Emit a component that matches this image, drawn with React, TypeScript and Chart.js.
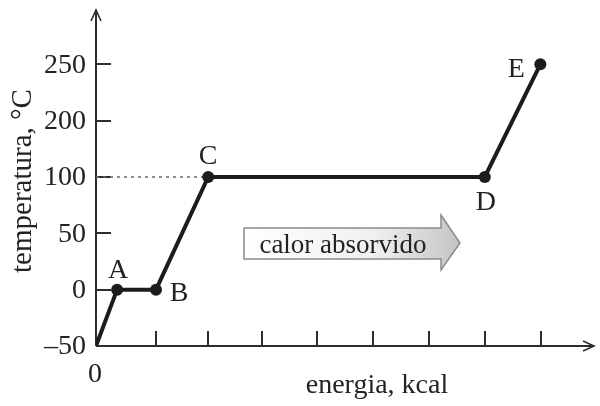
import React, { useEffect, useRef } from "react";
import { Chart, registerables } from "chart.js";

Chart.register(...registerables);

// Energy (x) in tick units, temperatures (°C) of the heating curve
const energy = [0, 0.38, 1.08, 2.02, 7.0, 8.0];
const temperature = [-50, 0, 0, 100, 100, 250];
const pointLabels = ["", "A", "B", "C", "D", "E"];
// x tick mark positions (unlabelled)
const xTicks = [1.08, 2.01, 2.99, 3.98, 4.98, 5.99, 7.0, 8.01];
// y axis (non-linear, 150 skipped): tick temperatures
const yTickTemps = [-50, 0, 50, 100, 200, 250];
const yTickLabels = ["–50", "0", "50", "100", "200", "250"];
const xTitle = "energia, kcal";
const yTitle = "temperatura, °C";
const calloutText = "calor absorvido";

// map temperature to the evenly spaced axis position
function tPos(t: number): number {
  const idx = yTickTemps.findIndex((v) => v >= t);
  if (idx <= 0) return 0;
  const t0 = yTickTemps[idx - 1];
  const t1 = yTickTemps[idx];
  return idx - 1 + (t - t0) / (t1 - t0);
}

const FAMILY = '"Liberation Serif", "Times New Roman", serif';
const FONT = "28px " + FAMILY;
const TXT = "#232323";

export default function App() {
  const ref = useRef<HTMLCanvasElement | null>(null);
  useEffect(() => {
    if (!ref.current) return;
    const mainData = energy.map((x, i) => ({ x, y: tPos(temperature[i]) }));
    const cIdx = 3;
    const dotted = [
      { x: 0, y: tPos(temperature[cIdx]) },
      { x: energy[cIdx], y: tPos(temperature[cIdx]) },
    ];

    const decor = {
      id: "decor",
      beforeDatasetsDraw(chart: any) {
        const { ctx, chartArea } = chart;
        const xs = chart.scales.x;
        const ys = chart.scales.y;
        const ox = xs.getPixelForValue(0);
        const oy = ys.getPixelForValue(0);
        ctx.save();
        ctx.strokeStyle = "#2e2e2e";
        ctx.lineWidth = 2;
        ctx.beginPath();
        ctx.moveTo(ox, oy);
        ctx.lineTo(ox, chartArea.top);
        ctx.moveTo(ox, oy);
        ctx.lineTo(chartArea.right, oy);
        ctx.stroke();
        ctx.lineWidth = 1.6;
        ctx.beginPath();
        ctx.moveTo(ox - 5, chartArea.top + 11);
        ctx.lineTo(ox, chartArea.top);
        ctx.lineTo(ox + 5, chartArea.top + 11);
        ctx.moveTo(chartArea.right - 11, oy - 5);
        ctx.lineTo(chartArea.right, oy);
        ctx.lineTo(chartArea.right - 11, oy + 5);
        ctx.stroke();
        // ticks
        ctx.lineWidth = 2;
        ctx.beginPath();
        xTicks.forEach((v) => {
          const px = Math.round(xs.getPixelForValue(v));
          ctx.moveTo(px, oy);
          ctx.lineTo(px, oy - 15);
        });
        yTickTemps.forEach((t) => {
          const py = Math.round(ys.getPixelForValue(tPos(t)));
          if (t === yTickTemps[0]) return;
          ctx.moveTo(ox, py);
          ctx.lineTo(ox + 15, py);
        });
        ctx.stroke();
        // tick labels
        ctx.fillStyle = TXT;
        ctx.font = FONT;
        ctx.textAlign = "right";
        ctx.textBaseline = "middle";
        yTickTemps.forEach((t, i) => {
          const py = ys.getPixelForValue(tPos(t));
          ctx.fillText(yTickLabels[i], 86, py + 1);
        });
        ctx.textAlign = "center";
        ctx.textBaseline = "alphabetic";
        ctx.fillText("0", ox - 1, 382);
        ctx.fillText(xTitle, 377, 393);
        ctx.save();
        ctx.font = "29px " + FAMILY;
        ctx.translate(31, 181);
        ctx.rotate(-Math.PI / 2);
        ctx.fillText(yTitle, 0, 0);
        ctx.restore();

        // callout arrow
        const bx0 = 244, bx1 = 441, by0 = 228, by1 = 259;
        const hy0 = 215, hy1 = 270, tipX = 460, tipY = 243;
        const g = ctx.createLinearGradient(bx0, 0, tipX, 0);
        g.addColorStop(0, "#ffffff");
        g.addColorStop(0.6, "#f0f0f0");
        g.addColorStop(1, "#c4c4c4");
        ctx.beginPath();
        ctx.moveTo(bx0, by0);
        ctx.lineTo(bx1, by0);
        ctx.lineTo(bx1, hy0);
        ctx.lineTo(tipX, tipY);
        ctx.lineTo(bx1, hy1);
        ctx.lineTo(bx1, by1);
        ctx.lineTo(bx0, by1);
        ctx.closePath();
        ctx.fillStyle = g;
        ctx.fill();
        ctx.strokeStyle = "#8a8a8a";
        ctx.lineWidth = 1.5;
        ctx.stroke();
        ctx.fillStyle = TXT;
        ctx.font = "27px " + FAMILY;
        ctx.textAlign = "center";
        ctx.fillText(calloutText, 343, 253);
        ctx.restore();
      },
      afterDatasetsDraw(chart: any) {
        const { ctx } = chart;
        const xs = chart.scales.x;
        const ys = chart.scales.y;
        const offsets: [number, number][] = [
          [0, 0],
          [1, -12],
          [23, 11],
          [0, -13],
          [1, 33],
          [-24, 13],
        ];
        ctx.save();
        ctx.fillStyle = TXT;
        ctx.font = FONT;
        ctx.textAlign = "center";
        ctx.textBaseline = "alphabetic";
        energy.forEach((x, i) => {
          if (!pointLabels[i]) return;
          const px = xs.getPixelForValue(x);
          const py = ys.getPixelForValue(tPos(temperature[i]));
          ctx.fillText(pointLabels[i], px + offsets[i][0], py + offsets[i][1]);
        });
        ctx.restore();
      },
    };

    const chart = new Chart(ref.current, {
      type: "line",
      data: {
        datasets: [
          {
            data: mainData,
            borderColor: "#1c1c1c",
            backgroundColor: "#1c1c1c",
            borderWidth: 4,
            pointRadius: mainData.map((_, i) => (i === 0 ? 0 : 6)),
            pointBorderWidth: 0,
            pointBackgroundColor: "#1c1c1c",
            tension: 0,
            fill: false,
          },
          {
            data: dotted,
            borderColor: "#6a6a6a",
            borderWidth: 1.5,
            borderDash: [3, 4],
            pointRadius: 0,
            fill: false,
          },
        ],
      },
      options: {
        responsive: false,
        animation: false,
        events: [],
        layout: { padding: { left: 96, top: 10, right: 1, bottom: 60 } },
        plugins: { legend: { display: false }, tooltip: { enabled: false } },
        scales: {
          x: { type: "linear", display: false, min: 0, max: 503 / 56.1 },
          y: { type: "linear", display: false, min: 0, max: 336 / 56.34 },
        },
      },
      plugins: [decor],
    });
    return () => chart.destroy();
  }, []);

  return (
    <div style={{ position: "fixed", left: 0, top: 0, width: 600, height: 406, background: "#fff" }}>
      <canvas ref={ref} width={600} height={406} />
    </div>
  );
}
